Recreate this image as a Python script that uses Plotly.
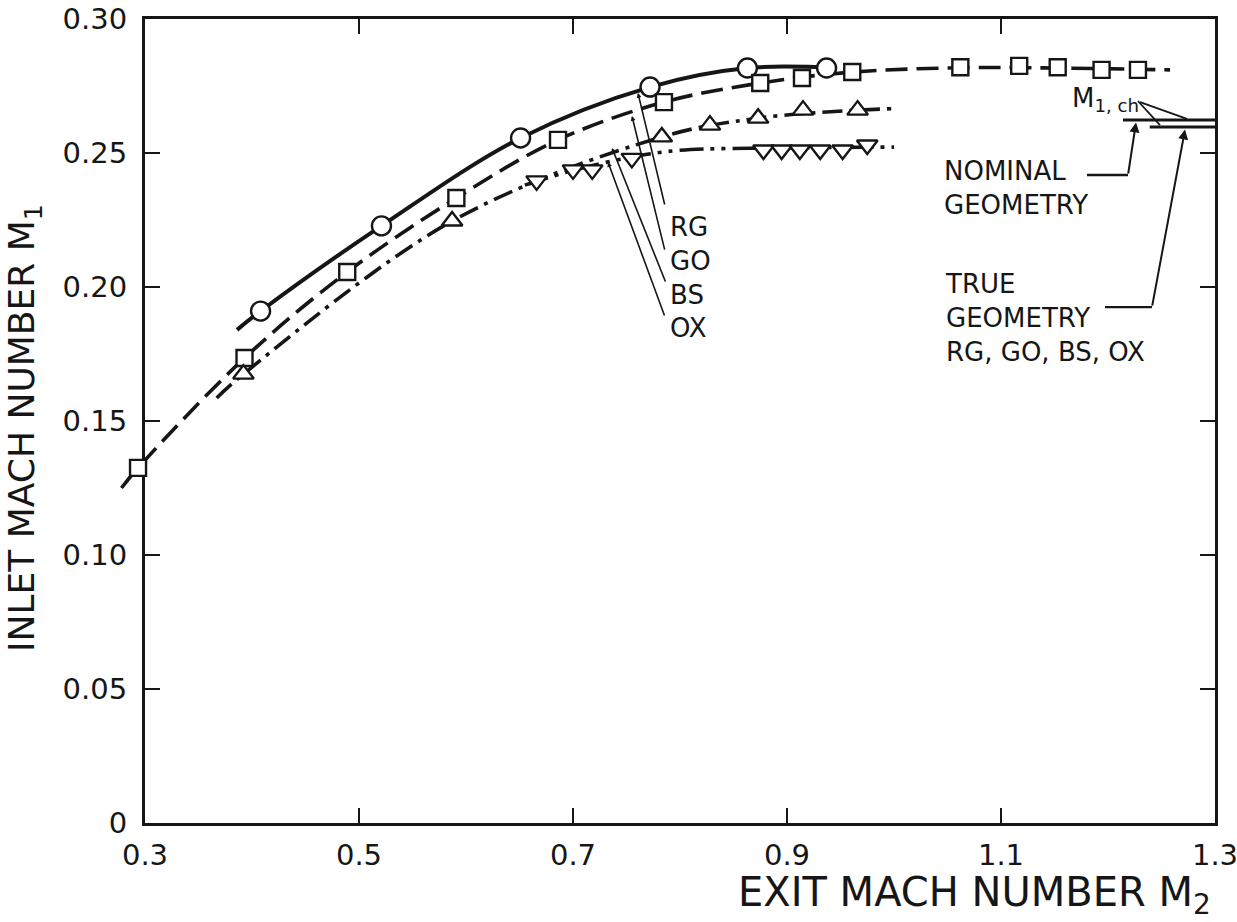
import plotly.graph_objects as go

# ---------------- data ----------------
# RG : circles, solid faired curve
rg_x = [0.408, 0.521, 0.651, 0.772, 0.863, 0.937]
rg_y = [0.191, 0.2228, 0.2556, 0.2746, 0.2817, 0.2817]
rg_curve_x = [0.386, 0.408, 0.521, 0.651, 0.772, 0.863, 0.945]
rg_curve_y = [0.184, 0.191, 0.2228, 0.2556, 0.2746, 0.2817, 0.2817]

# GO : squares, long-dash faired curve
go_x = [0.2935, 0.393, 0.489, 0.591, 0.686, 0.785, 0.875, 0.914, 0.961,
        1.062, 1.117, 1.153, 1.194, 1.228]
go_y = [0.1325, 0.1735, 0.2056, 0.2332, 0.2549, 0.269, 0.2761, 0.278, 0.2802,
        0.282, 0.2825, 0.282, 0.281, 0.281]
go_curve_x = [0.278, 0.2935, 0.393, 0.489, 0.591, 0.686, 0.785, 0.875, 0.961,
              1.062, 1.153, 1.258]
go_curve_y = [0.125, 0.1325, 0.1735, 0.2056, 0.2332, 0.2549, 0.269, 0.2761, 0.2802,
              0.2818, 0.2817, 0.281]

# BS : triangles up, dash-dot faired curve
bs_x = [0.392, 0.587, 0.783, 0.828, 0.873, 0.915, 0.966]
bs_y = [0.1675, 0.2246, 0.256, 0.2604, 0.263, 0.266, 0.266]
bs_curve_x = [0.367, 0.392, 0.587, 0.783, 0.873, 0.966, 0.998]
bs_curve_y = [0.1586, 0.1675, 0.2246, 0.256, 0.263, 0.266, 0.2665]

# OX : triangles down, dash-dot-dot faired curve
ox_x = [0.666, 0.700, 0.718, 0.755, 0.878, 0.895, 0.912, 0.931, 0.952, 0.975]
ox_y = [0.2396, 0.2437, 0.2437, 0.248, 0.2511, 0.2511, 0.2511, 0.2511, 0.2511, 0.253]
ox_curve_x = [0.655, 0.700, 0.755, 0.800, 0.900, 1.000]
ox_curve_y = [0.238, 0.2435, 0.2485, 0.2510, 0.2519, 0.2522]

# choking inlet Mach number M1,ch
m1ch_nominal_x = [1.214, 1.300]
m1ch_nominal_y = [0.2623, 0.2623]
m1ch_true_x = [1.239, 1.300]
m1ch_true_y = [0.2597, 0.2597]

x_tickvals = [0.3, 0.5, 0.7, 0.9, 1.1, 1.3]
x_ticktext = ["0.3", "0.5", "0.7", "0.9", "1.1", "1.3"]
y_tickvals = [0, 0.05, 0.10, 0.15, 0.20, 0.25, 0.30]
y_ticktext = ["0", "0.05", "0.10", "0.15", "0.20", "0.25", "0.30"]

# curve labels and leader lines (data coordinates)
lbl_text = ["RG", "GO", "BS", "OX"]
lbl_x = 0.7888
lbl_y = [0.2224, 0.2097, 0.1970, 0.1847]
lead_tail_x = [0.786, 0.786, 0.7869, 0.786]
lead_tail_y = [0.2302, 0.2134, 0.2015, 0.1888]
lead_tip_x = [0.7607, 0.7551, 0.7364, 0.7327]
lead_tip_y = [0.2724, 0.2638, 0.2519, 0.2466]

# ---------------- layout geometry ----------------
W, H = 1237, 922
ML, MR, MT, MB = 100, 22, 19, 99
PLOT_LEFT_PX = 145
paper_w = W - ML - MR
paper_h = H - MT - MB
x_dom0 = (PLOT_LEFT_PX - ML) / paper_w
px_per_unit = (paper_w - (PLOT_LEFT_PX - ML)) / (1.3 - 0.3)
x2_lo = 0.3 - (PLOT_LEFT_PX - ML) / px_per_unit

FONT = "DejaVu Sans"
INK = "#161616"

fig = go.Figure()

def curve(xs, ys, dash, width):
    fig.add_trace(go.Scatter(x=xs, y=ys, mode="lines", xaxis="x2", yaxis="y",
                             line=dict(color=INK, width=width, dash=dash,
                                       shape="spline", smoothing=1.0),
                             hoverinfo="skip", showlegend=False))

def marks(xs, ys, symbol, size):
    fig.add_trace(go.Scatter(x=xs, y=ys, mode="markers", xaxis="x2", yaxis="y",
                             marker=dict(symbol=symbol, size=size, color="white",
                                         line=dict(color=INK, width=2.4)),
                             showlegend=False))

curve(rg_curve_x, rg_curve_y, "solid", 4)
curve(go_curve_x, go_curve_y, "22px,9px", 3.6)
curve(bs_curve_x, bs_curve_y, "20px,7px,4px,7px", 3.6)
curve(ox_curve_x, ox_curve_y, "24px,7px,4px,7px,4px,7px", 3.6)

for xs, ys in [(m1ch_nominal_x, m1ch_nominal_y), (m1ch_true_x, m1ch_true_y)]:
    fig.add_trace(go.Scatter(x=xs, y=ys, mode="lines", xaxis="x2", yaxis="y",
                             line=dict(color=INK, width=3), showlegend=False))

marks(rg_x, rg_y, "circle", 19)
marks(go_x, go_y, "square", 16)
marks(bs_x, bs_y, "triangle-up", 18)
marks(ox_x, ox_y, "triangle-down", 18)

annotations = []
lbl_font = dict(family=FONT, size=26, color=INK)
for t, y, tx, ty, hx, hy in zip(lbl_text, lbl_y, lead_tail_x, lead_tail_y,
                                 lead_tip_x, lead_tip_y):
    annotations.append(dict(x=lbl_x, y=y, xref="x", yref="y", text=t,
                            showarrow=False, xanchor="left", yanchor="middle",
                            font=lbl_font))
    annotations.append(dict(x=hx, y=hy, ax=tx, ay=ty, xref="x", yref="y",
                            axref="x", ayref="y", text="", showarrow=True,
                            arrowhead=2, arrowsize=0.6, arrowwidth=1.6,
                            arrowcolor=INK))

annotations += [
    dict(x=1.0449, y=0.2368, xref="x", yref="y", text="NOMINAL<br>GEOMETRY",
         showarrow=False, xanchor="left", yanchor="middle", align="left",
         font=lbl_font),
    dict(x=1.0458, y=0.1884, xref="x", yref="y",
         text="TRUE<br>GEOMETRY<br>RG, GO, BS, OX",
         showarrow=False, xanchor="left", yanchor="middle", align="left",
         font=lbl_font),
    dict(x=1.1645, y=0.2698, xref="x", yref="y", text="M<sub>1, ch</sub>",
         showarrow=False, xanchor="left", yanchor="middle",
         font=dict(family=FONT, size=26, color=INK)),
    dict(x=1.2262, y=0.2614, ax=1.2187, ay=0.2418, xref="x", yref="y",
         axref="x", ayref="y", text="", showarrow=True, arrowhead=2,
         arrowsize=1.0, arrowwidth=2, arrowcolor=INK),
    dict(x=1.2720, y=0.2588, ax=1.2411, ay=0.1925, xref="x", yref="y",
         axref="x", ayref="y", text="", showarrow=True, arrowhead=2,
         arrowsize=1.0, arrowwidth=2, arrowcolor=INK),
    # axis titles
    dict(x=(25 - ML) / paper_w, y=0.4913, xref="paper", yref="paper",
         text="INLET MACH NUMBER M<sub>1</sub>", textangle=-90, showarrow=False,
         xanchor="center", yanchor="middle",
         font=dict(family=FONT, size=36, color=INK)),
    dict(x=(1213 - ML) / paper_w, y=(823 - 895) / paper_h, xref="paper",
         yref="paper", text="EXIT MACH NUMBER M<sub>2</sub>", showarrow=False,
         xanchor="right", yanchor="middle",
         font=dict(family=FONT, size=40, color=INK)),
]

shapes = [
    dict(type="line", xref="x", yref="y", x0=1.1804, y0=0.2418, x1=1.2187, y1=0.2418,
         line=dict(color=INK, width=2.4)),
    dict(type="line", xref="x", yref="y", x0=1.1972, y0=0.1925, x1=1.2411, y1=0.1925,
         line=dict(color=INK, width=2.4)),
    dict(type="line", xref="x", yref="y", x0=1.2280, y0=0.2694, x1=1.2486, y1=0.2604,
         line=dict(color=INK, width=1.8)),
    dict(type="line", xref="x", yref="y", x0=1.2300, y0=0.2690, x1=1.2738, y1=0.2627,
         line=dict(color=INK, width=1.8)),
]

axis_common = dict(showline=True, linewidth=3, linecolor=INK, mirror="ticks",
                   ticks="inside", ticklen=15, tickwidth=2.4, tickcolor=INK,
                   showgrid=False, zeroline=False, ticklabeloverflow="allow",
                   automargin=False,
                   tickfont=dict(family=FONT, size=29, color=INK))

fig.update_layout(
    width=W, height=H,
    margin=dict(l=ML, r=MR, t=MT, b=MB, autoexpand=False),
    paper_bgcolor="white", plot_bgcolor="rgba(0,0,0,0)",
    xaxis=dict(domain=[x_dom0, 1], range=[0.3, 1.3], tickvals=x_tickvals,
               ticktext=x_ticktext, anchor="y", ticklabelstandoff=4,
               **axis_common),
    xaxis2=dict(domain=[0, 1], range=[x2_lo, 1.3], anchor="y",
                visible=False, showgrid=False, zeroline=False, automargin=False),
    yaxis=dict(domain=[0, 1], range=[0, 0.30], tickvals=y_tickvals,
               ticktext=y_ticktext, anchor="x", ticklabelstandoff=9,
               **axis_common),
    annotations=annotations,
    shapes=shapes,
    showlegend=False,
)

fig.write_html("out.html")
